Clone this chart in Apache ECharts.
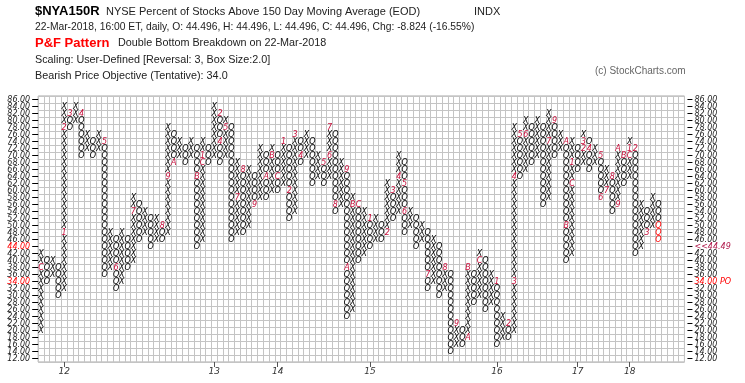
<!DOCTYPE html>
<html><head><meta charset="utf-8">
<script src="https://cdn.jsdelivr.net/npm/echarts@6/dist/echarts.min.js"></script>
<style>html,body{margin:0;padding:0;background:#fff}#c{width:745px;height:383px}</style>
</head><body><div id="c"></div>
<script>
// ---------- data ----------
// price rows (box size 2)
const priceLevels = [12,14,16,18,20,22,24,26,28,30,32,34,36,38,40,42,44,46,48,50,52,54,56,58,60,62,64,66,68,70,72,74,76,78,80,82,84,86];
const NCOLS = 112;
// column kind alternates: even = X column, odd = O column
const firstColumnKind = 'X';
const colLow  = [20,34,36,30,32,78,80,70,72,70, 72,36,38,32,34,38,40,46,48,44,
                 46,46,48,68,70,68,70,44,46,68, 70,68,70,46,48,48,50,56,58,58,
                 60,60,62,52,54,68,70,62,64,62, 64,54,56,24,26,40,42,44,46,46,
                 48,52,54,48,50,44,46,32,34,30, 32,14,16,16,18,28,30,26,28,16,
                 18,18,20,64,66,68,70,56,58,70, 72,40,42,66,68,66,68,58,60,54,
                 56,62,64,42,44,48,50,46];
const colHigh = [42,40,40,38,84,82,84,82,76,74, 76,74,48,46,48,46,58,56,54,52,
                 52,50,78,76,74,72,74,72,74,72, 84,82,80,78,68,66,66,64,72,70,
                 72,70,74,72,76,74,76,74,70,68, 78,76,68,66,58,56,54,52,52,50,
                 62,60,70,68,54,52,50,48,46,44, 38,36,22,20,38,36,42,40,36,34,
                 24,22,78,76,80,78,80,78,82,80, 76,74,74,72,76,74,72,70,66,64,
                 72,70,74,72,56,54,58,56];
// boxes added in the latest session (drawn red)
const latestBoxes = [[107,50],[107,48],[107,46]];
// month markers [column, price, label]
const monthMarks = [
  [0,38,'C'],[4,48,'1'],[4,78,'2'],[5,82,'3'],[7,82,'4'],[11,74,'5'],[13,38,'6'],[16,54,'7'],
  [21,50,'8'],[22,64,'9'],[23,68,'A'],[27,64,'B'],[28,68,'C'],[28,70,'1'],[31,82,'2'],[31,74,'4'],
  [32,78,'5'],[34,58,'7'],[35,66,'8'],[37,56,'9'],[39,64,'A'],[40,70,'B'],[41,64,'C'],[42,74,'1'],
  [43,60,'2'],[44,76,'3'],[45,70,'4'],[49,68,'5'],[50,70,'6'],[50,78,'7'],[51,56,'8'],[53,66,'9'],
  [53,38,'A'],[54,56,'B'],[55,56,'C'],[57,52,'1'],[60,48,'2'],[61,60,'3'],[62,64,'4'],[63,62,'5'],
  [63,54,'6'],[67,36,'7'],[70,38,'8'],[72,22,'9'],[74,18,'A'],[74,38,'B'],[76,40,'C'],[79,34,'1'],
  [81,22,'2'],[82,34,'3'],[82,64,'4'],[83,76,'5'],[84,76,'6'],[88,74,'7'],[89,80,'9'],[91,74,'A'],
  [91,50,'B'],[92,62,'C'],[92,68,'1'],[94,72,'2'],[94,74,'3'],[95,72,'4'],[97,70,'5'],[97,58,'6'],
  [98,60,'7'],[99,64,'8'],[100,56,'9'],[100,72,'A'],[101,70,'B'],[102,70,'C'],[102,72,'1'],[103,72,'2'],
  [105,48,'3']];
// year labels [column, label]
const yearLabels = [[4,'12'],[30,'13'],[41,'14'],[57,'15'],[79,'16'],[93,'17'],[102,'18']];
const leftRedLevels = [44,34];
const rightSpecial = {44:'<<44.49', 34:'34.00 PO'};

// ---------- build ----------
const rowLabels = priceLevels.map(v => v.toFixed(2));
const colCats = Array.from({length: NCOLS}, (_, i) => String(i));
const cells = [], texts = [], colors = [];
const other = firstColumnKind === 'X' ? 'O' : 'X';
for (let c = 0; c < colLow.length; c++) {
  const kind = c % 2 === 0 ? firstColumnKind : other;
  for (let v = colLow[c]; v <= colHigh[c]; v += 2) {
    cells.push([c, priceLevels.indexOf(v)]);
    texts.push(kind);
    colors.push('#000000');
  }
}
const findCell = (c, v) => { const r = priceLevels.indexOf(v); return cells.findIndex(p => p[0] === c && p[1] === r); };
latestBoxes.forEach(([c, v]) => { const i = findCell(c, v); if (i >= 0) colors[i] = '#ff0000'; });
monthMarks.forEach(([c, v, m]) => {
  const i = findCell(c, v);
  if (i >= 0) { texts[i] = m; colors[i] = '#c8103c'; }
});
const yearMap = {}; yearLabels.forEach(([c, t]) => yearMap[c] = t);
const isYear = (idx) => yearMap[idx] !== undefined;

const chart = echarts.init(document.getElementById('c'));
const labelFont = 'DejaVu Sans';
const cellW = 5.77, gridLeft = 38.2;
const gridRight = 745 - (gridLeft + NCOLS * cellW);
chart.setOption({
  animation: false,
  grid: {left: gridLeft, right: gridRight, top: 96, bottom: 21, show: true, borderColor: '#a8a8a8', borderWidth: 1},
  xAxis: {
    type: 'category', data: colCats, boundaryGap: true,
    axisLine: {show: false},
    axisTick: {show: true, alignWithLabel: true, interval: (i) => isYear(i), length: 5, lineStyle: {color: '#555'}},
    axisLabel: {interval: (i) => isYear(i), formatter: (v, i) => yearMap[i] || '', fontStyle: 'italic', fontSize: 9, color: '#333', margin: 5, fontFamily: labelFont},
    splitLine: {show: true, interval: 0, lineStyle: {color: '#c4c4c4', width: 1}}
  },
  yAxis: [{
    type: 'category', data: rowLabels, boundaryGap: true, position: 'left',
    axisLine: {show: false},
    axisTick: {show: true, alignWithLabel: true, interval: 0, length: 6, lineStyle: {color: '#000'}},
    axisLabel: {interval: 0, margin: 8, fontSize: 8, fontStyle: 'italic', fontFamily: labelFont, color: '#222',
      formatter: (v) => leftRedLevels.indexOf(parseFloat(v)) >= 0 ? '{r|' + v + '}' : v,
      rich: {r: {color: '#ff0000', fontSize: 8, fontStyle: 'italic', fontFamily: labelFont}}},
    splitLine: {show: true, interval: 0, lineStyle: {color: '#c4c4c4', width: 1}}
  }, {
    type: 'category', data: rowLabels, boundaryGap: true, position: 'right', offset: 8,
    axisLine: {show: false},
    axisTick: {show: true, inside: true, alignWithLabel: true, interval: 0, length: 5, lineStyle: {color: '#000'}},
    axisLabel: {interval: 0, margin: 2, fontSize: 8, fontStyle: 'italic', fontFamily: labelFont, color: '#222',
      formatter: (v) => {
        const k = parseFloat(v);
        if (k === 44) return '{p|' + rightSpecial[44] + '}';
        if (k === 34) return '{r|' + rightSpecial[34] + '}';
        return v;
      },
      rich: {r: {color: '#ff0000', fontSize: 8, fontStyle: 'italic', fontFamily: labelFont},
             p: {color: '#b0184a', fontSize: 8, fontStyle: 'italic', fontFamily: labelFont}}},
    splitLine: {show: false}
  }],
  series: [{
    type: 'custom', coordinateSystem: 'cartesian2d', xAxisIndex: 0, yAxisIndex: 0,
    data: cells,
    renderItem: (params, api) => {
      const p = api.coord([api.value(0), api.value(1)]);
      const i = params.dataIndex;
      return {type: 'text', x: p[0], y: p[1] + 0.5, style: {
        text: texts[i], fill: colors[i], align: 'center', verticalAlign: 'middle',
        font: 'italic 8px "DejaVu Sans"'}};
    }
  }],
  graphic: [
    {type: 'text', left: 35, top: 5, style: {text: '$NYA150R', font: 'bold 13px "Liberation Sans"', fill: '#000'}},
    {type: 'text', left: 106, top: 6, style: {text: 'NYSE Percent of Stocks Above 150 Day Moving Average (EOD)', font: '11px "Liberation Sans"', fill: '#222'}},
    {type: 'text', left: 474, top: 6, style: {text: 'INDX', font: '11px "Liberation Sans"', fill: '#222'}},
    {type: 'text', left: 35, top: 22, style: {text: '22-Mar-2018, 16:00 ET, daily, O: 44.496, H: 44.496, L: 44.496, C: 44.496, Chg: -8.824 (-16.55%)', font: '10.3px "Liberation Sans"', fill: '#222'}},
    {type: 'text', left: 35, top: 37, style: {text: 'P&F Pattern', font: 'bold 13px "Liberation Sans"', fill: '#ff0000'}},
    {type: 'text', left: 118, top: 38, style: {text: 'Double Bottom Breakdown on 22-Mar-2018', font: '10.8px "Liberation Sans"', fill: '#222'}},
    {type: 'text', left: 35, top: 55, style: {text: 'Scaling: User-Defined [Reversal: 3, Box Size:2.0]', font: '10.8px "Liberation Sans"', fill: '#222'}},
    {type: 'text', left: 35, top: 71, style: {text: 'Bearish Price Objective (Tentative): 34.0', font: '10.8px "Liberation Sans"', fill: '#222'}},
    {type: 'text', left: 595, top: 66, style: {text: '(c) StockCharts.com', font: '10px "Liberation Sans"', fill: '#666'}}
  ]
});
</script></body></html>
